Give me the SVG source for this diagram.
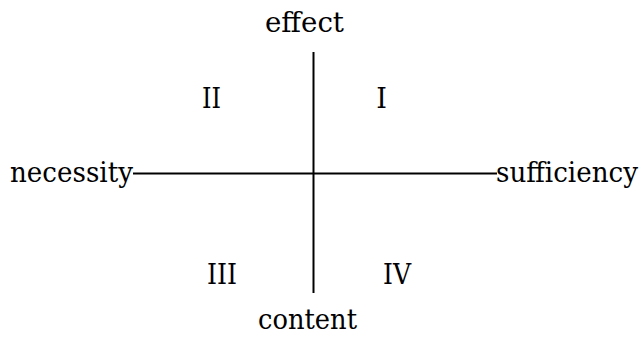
<svg xmlns="http://www.w3.org/2000/svg" width="644" height="339" viewBox="0 0 644 339">
<style>
text{font-family:"DejaVu Serif","Liberation Serif",serif;font-size:27px;fill:#000}
.ax{stroke:#000;stroke-width:2;fill:none}
</style>
<rect width="644" height="339" fill="#fff"/>
<g id="connectors">
<line class="ax" x1="313.5" y1="52" x2="313.5" y2="293"/>
<line class="ax" x1="133" y1="173.5" x2="497" y2="173.5"/>
</g>
<g id="effect"><text x="265" y="32" textLength="79" lengthAdjust="spacingAndGlyphs">effect</text></g>
<g id="content"><text x="258" y="329" textLength="99" lengthAdjust="spacingAndGlyphs">content</text></g>
<g id="necessity"><text x="10" y="182" textLength="123" lengthAdjust="spacingAndGlyphs">necessity</text></g>
<g id="sufficiency"><text x="496" y="182" textLength="142" lengthAdjust="spacingAndGlyphs">sufficiency</text></g>
<g id="q2"><text x="211.5" y="108" text-anchor="middle" textLength="19" lengthAdjust="spacingAndGlyphs">II</text></g>
<g id="q1"><text x="381.5" y="108" text-anchor="middle">I</text></g>
<g id="q3"><text x="222" y="284" text-anchor="middle" textLength="30" lengthAdjust="spacingAndGlyphs">III</text></g>
<g id="q4"><text x="397" y="284" text-anchor="middle" textLength="28" lengthAdjust="spacingAndGlyphs">IV</text></g>
</svg>
